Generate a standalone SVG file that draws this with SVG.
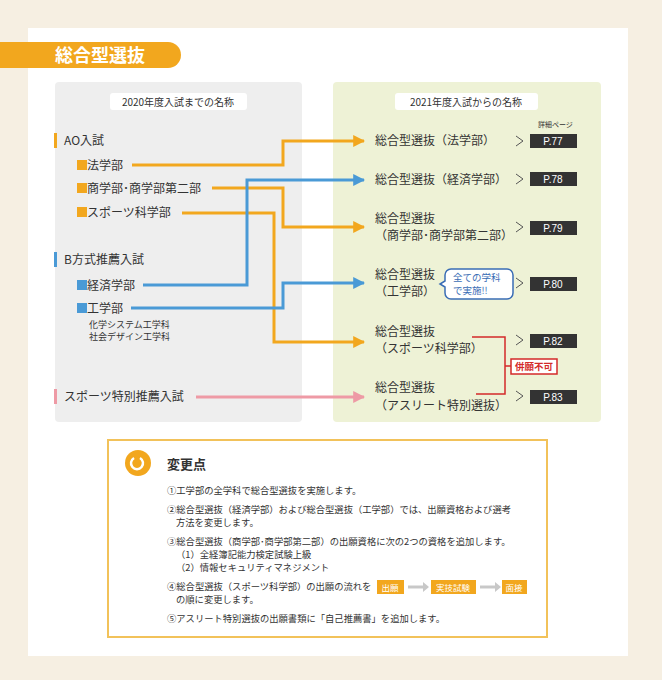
<svg xmlns="http://www.w3.org/2000/svg" width="662" height="680" viewBox="0 0 662 680">
<defs>
<style>
text{font-family:"Noto Sans CJK JP","Noto Sans",sans-serif;fill:#333}
.t{font-size:12px}
.s{font-size:9px}
.b{font-size:10px}
.o{stroke:#f2a71e;stroke-width:3;fill:none}
.bl{stroke:#4a9ad6;stroke-width:3;fill:none}
.pk{stroke:#ee9aa5;stroke-width:3;fill:none}
.pb{fill:#333}
.pt{font-size:10px;fill:#fff;font-family:"Liberation Sans",sans-serif}
.chev{stroke:#555;stroke-width:1;fill:none}
.c{font-size:9.3px}
</style>
<marker id="ao" viewBox="0 0 10 10" refX="9" refY="5" markerWidth="4" markerHeight="4" orient="auto" markerUnits="strokeWidth"><path d="M0,0L10,5L0,10z" fill="#f2a71e"/></marker>
<marker id="ab" viewBox="0 0 10 10" refX="9" refY="5" markerWidth="4" markerHeight="4" orient="auto" markerUnits="strokeWidth"><path d="M0,0L10,5L0,10z" fill="#4a9ad6"/></marker>
<marker id="ap" viewBox="0 0 10 10" refX="9" refY="5" markerWidth="4" markerHeight="4" orient="auto" markerUnits="strokeWidth"><path d="M0,0L10,5L0,10z" fill="#ee9aa5"/></marker>
</defs>
<rect width="662" height="680" fill="#f6efe2"/>
<rect x="28" y="28" width="600" height="628" fill="#fff"/>
<path d="M0,42H168a13,13 0 0 1 0,26H0z" fill="#f2a71e"/>
<text x="55" y="62" style="font-size:18px;font-weight:bold;fill:#fff">総合型選抜</text>
<rect x="55" y="82" width="247" height="340" rx="4" fill="#eeeeee"/>
<rect x="333" y="82" width="268" height="340" rx="4" fill="#eef2d6"/>
<rect x="110" y="93" width="137" height="17" rx="3" fill="#fff"/>
<text x="178" y="106" class="b" text-anchor="middle">2020年度入試までの名称</text>
<rect x="395" y="93" width="143" height="17" rx="3" fill="#fff"/>
<text x="466" y="106" class="b" text-anchor="middle">2021年度入試からの名称</text>

<g id="left">
<rect x="54" y="133" width="3" height="15" fill="#f2a71e"/>
<text x="64" y="145" class="t">AO入試</text>
<g id="n-hou"><rect x="77" y="160" width="10" height="10" fill="#f2a71e"/><text x="87" y="170" class="t">法学部</text></g>
<g id="n-shou"><rect x="77" y="183" width="10" height="10" fill="#f2a71e"/><text x="87" y="193" class="t">商学部･商学部第二部</text></g>
<g id="n-sp"><rect x="77" y="207" width="10" height="10" fill="#f2a71e"/><text x="87" y="217" class="t">スポーツ科学部</text></g>
<rect x="54" y="252" width="3" height="15" fill="#4a9ad6"/>
<text x="64" y="264" class="t">B方式推薦入試</text>
<g id="n-kei"><rect x="77" y="280" width="10" height="10" fill="#4a9ad6"/><text x="87" y="290" class="t">経済学部</text></g>
<g id="n-kou"><rect x="77" y="303" width="10" height="10" fill="#4a9ad6"/><text x="87" y="313" class="t">工学部</text>
<text x="89" y="328" class="s">化学システム工学科</text><text x="89" y="340" class="s">社会デザイン工学科</text></g>
<rect x="54" y="389" width="3" height="15" fill="#ee9aa5"/>
<g id="n-ath"><text x="64" y="401" class="t">スポーツ特別推薦入試</text></g>
</g>

<g id="connectors">
<path class="o" d="M132,165H283V141H364" marker-end="url(#ao)"/>
<path class="o" d="M212,188H283V227H364" marker-end="url(#ao)"/>
<path class="o" d="M182,213H274V342H364" marker-end="url(#ao)"/>
<path class="bl" d="M143,285H247V180H364" marker-end="url(#ab)"/>
<path class="bl" d="M131,308H283V283H364" marker-end="url(#ab)"/>
<path class="pk" d="M196,397H364" marker-end="url(#ap)"/>
<path d="M472,337H505V394H476M505,366H512" stroke="#d42a2a" stroke-width="1.5" fill="none"/>
</g>

<g id="right">
<text x="538" y="127" style="font-size:7px">詳細ページ</text>
<g id="r1"><text x="375" y="145" class="t">総合型選抜（法学部）</text><path class="chev" d="M516,136l7,5l-7,5"/><rect class="pb" x="530" y="134" width="47" height="14"/><text x="553" y="145" class="pt" text-anchor="middle">P.77</text></g>
<g id="r2"><text x="375" y="184" class="t">総合型選抜（経済学部）</text><path class="chev" d="M516,174l7,5l-7,5"/><rect class="pb" x="530" y="172" width="47" height="14"/><text x="553" y="183" class="pt" text-anchor="middle">P.78</text></g>
<g id="r3"><text x="375" y="223" class="t">総合型選抜</text><text x="375" y="240" class="t">（商学部･商学部第二部）</text><path class="chev" d="M516,222l7,5l-7,5"/><rect class="pb" x="530" y="221" width="47" height="14"/><text x="553" y="232" class="pt" text-anchor="middle">P.79</text></g>
<g id="r4"><text x="375" y="279" class="t">総合型選抜</text><text x="375" y="296" class="t">（工学部）</text>
<path d="M451,269h56a6,6 0 0 1 6,6v18a6,6 0 0 1 -6,6h-56a6,6 0 0 1 -6,-6v-6l-5,-3l5,-3v-6a6,6 0 0 1 6,-6z" fill="#fff" stroke="#3a6db5" stroke-width="1.5"/>
<text x="453" y="281" style="font-size:9.5px;fill:#3a6db5">全ての学科</text><text x="453" y="294" style="font-size:9.5px;fill:#3a6db5">で実施!!</text>
<path class="chev" d="M516,278l7,5l-7,5"/><rect class="pb" x="530" y="277" width="47" height="14"/><text x="553" y="288" class="pt" text-anchor="middle">P.80</text></g>
<g id="r5"><text x="375" y="336" class="t">総合型選抜</text><text x="375" y="353" class="t">（スポーツ科学部）</text><path class="chev" d="M516,335l7,5l-7,5"/><rect class="pb" x="530" y="334" width="47" height="14"/><text x="553" y="345" class="pt" text-anchor="middle">P.82</text></g>
<g id="r6"><text x="375" y="392" class="t">総合型選抜</text><text x="375" y="410" class="t">（アスリート特別選抜）</text><path class="chev" d="M516,391l7,5l-7,5"/><rect class="pb" x="530" y="390" width="47" height="14"/><text x="553" y="401" class="pt" text-anchor="middle">P.83</text></g>
<g id="heigan"><rect x="511" y="359" width="46" height="15" fill="#fff" stroke="#d42a2a" stroke-width="1.5"/><text x="534" y="370" text-anchor="middle" style="font-size:9.5px;font-weight:bold;fill:#d42a2a">併願不可</text></g>
</g>

<g id="changes">
<rect x="108" y="440" width="439" height="197" fill="#fff" stroke="#f2c25a" stroke-width="2"/>
<circle cx="138" cy="463" r="13" fill="#f2a71e"/>
<path d="M134,458a6,6 0 1 0 6,0" stroke="#fff" stroke-width="2.5" fill="none"/>
<text x="167" y="469" style="font-size:13px;font-weight:bold">変更点</text>
<text x="167" y="494" class="c">①工学部の全学科で総合型選抜を実施します。</text>
<text x="167" y="513" class="c">②総合型選抜（経済学部）および総合型選抜（工学部）では、出願資格および選考</text>
<text x="176" y="526" class="c">方法を変更します。</text>
<text x="167" y="545" class="c">③総合型選抜（商学部･商学部第二部）の出願資格に次の2つの資格を追加します。</text>
<text x="176" y="558" class="c">（1）全経簿記能力検定試験上級</text>
<text x="176" y="571" class="c">（2）情報セキュリティマネジメント</text>
<text x="167" y="590" class="c">④総合型選抜（スポーツ科学部）の出願の流れを</text>
<text x="176" y="603" class="c">の順に変更します。</text>
<text x="167" y="622" class="c">⑤アスリート特別選抜の出願書類に「自己推薦書」を追加します。</text>
<rect x="377" y="580" width="27" height="14" fill="#f2a71e"/><text x="390" y="591" text-anchor="middle" style="font-size:8.5px;fill:#fff">出願</text>
<path d="M408,587h16" stroke="#c8c8c8" stroke-width="3"/><path d="M423,582l6,5l-6,5z" fill="#c8c8c8"/>
<rect x="431" y="580" width="45" height="14" fill="#f2a71e"/><text x="453" y="591" text-anchor="middle" style="font-size:8.5px;fill:#fff">実技試験</text>
<path d="M480,587h16" stroke="#c8c8c8" stroke-width="3"/><path d="M495,582l6,5l-6,5z" fill="#c8c8c8"/>
<rect x="502" y="580" width="25" height="14" fill="#f2a71e"/><text x="514" y="591" text-anchor="middle" style="font-size:8.5px;fill:#fff">面接</text>
</g>
</svg>
